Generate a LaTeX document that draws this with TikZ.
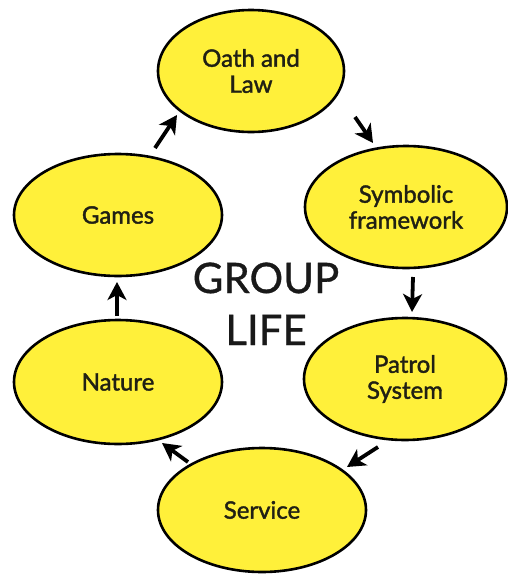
\documentclass[tikz,border=0pt]{standalone}
\usepackage{fontspec}
\setmainfont{Lato}
\newfontfamily\stagefont{Lato}[FakeBold=1.6]
\newfontfamily\hubfont{Lato}[FakeBold=0.8]
\usetikzlibrary{shapes.geometric,arrows.meta,calc}
\definecolor{cyclefill}{RGB}{255,240,58}
\definecolor{inktext}{RGB}{32,32,20}
\tikzset{
  stage/.style={ellipse, draw=black, line width=2.6pt, fill=cyclefill,
    inner sep=0pt, align=center, text=inktext,
    font=\stagefont\fontsize{24}{26}\selectfont},
  flow/.style={line width=3.8pt, -{Stealth[length=18pt,width=19pt,inset=5pt]}},
  hub/.style={anchor=base, font=\hubfont\fontsize{42}{50}\selectfont, text=black!90}
}
\begin{document}
\begin{tikzpicture}[x=1pt,y=-1pt]
  \useasboundingbox (0,0) rectangle (507,574);
  \fill[white] (0,0) rectangle (507,574);

  % the six stages of the cycle
  \node[stage, minimum width=186pt, minimum height=122pt] (oath)    at (251,71)  {Oath and\\Law};
  \node[stage, minimum width=202pt, minimum height=122pt] (symb)    at (406,207) {Symbolic\\framework};
  \node[stage, minimum width=202pt, minimum height=122pt] (patrol)  at (405,379) {Patrol\\System};
  \node[stage, minimum width=208pt, minimum height=124pt] (service) at (262,510) {Service};
  \node[stage, minimum width=208pt, minimum height=124pt] (nature)  at (118,382) {Nature};
  \node[stage, minimum width=208pt, minimum height=122pt] (games)   at (118,215) {Games};

  % centre title
  \node[hub] (grp)  at (266,293) {GROUP};
  \node[hub] (life) at (266,345) {LIFE};

  % arrows running clockwise between the stages
  \draw[flow] ($(games.center)+(37,-67)$)  -- ($(oath.center)+(-74,44)$);
  \draw[flow] ($(oath.center)+(104,46)$)   -- ($(symb.center)+(-33,-64)$);
  \draw[flow] ($(symb.center)+(7,70)$)     -- ($(patrol.center)+(7,-67)$);
  \draw[flow] ($(patrol.center)+(-27,68)$) -- ($(service.center)+(85,-43)$);
  \draw[flow] ($(service.center)+(-74,-48)$) -- ($(nature.center)+(44,61)$);
  \draw[flow] ($(nature.center)+(-1,-66)$) -- ($(games.center)+(-1,67)$);
\end{tikzpicture}
\end{document}
